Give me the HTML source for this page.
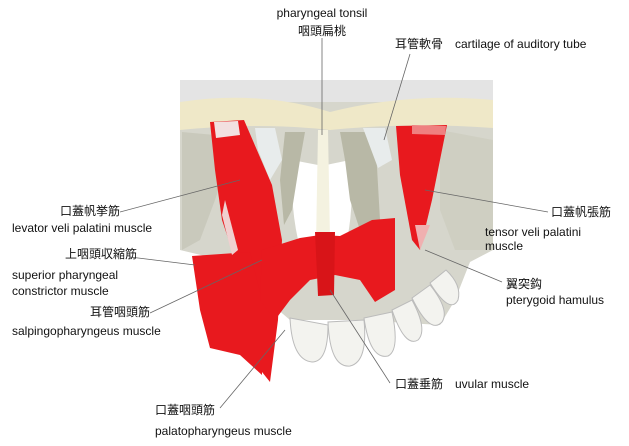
<!DOCTYPE html>
<html><head><meta charset="utf-8"><style>
body{margin:0;background:#fff;width:629px;height:446px;overflow:hidden;font-family:"Liberation Sans","Noto Sans CJK JP",sans-serif;}
svg{position:absolute;left:0;top:0}
.t{font-size:12px;fill:#111}
</style></head><body>
<svg width="629" height="446" viewBox="0 0 629 446">
<!-- skull gray -->
<path d="M180,80 L493,80 L493,250 L470,262 L455,300 L440,325 L360,320 L290,320 L255,290 L230,262 L180,250Z" fill="#d6d6cc"/>
<rect x="180" y="80" width="313" height="22" fill="#e4e4e4"/>
<path d="M180,102 Q260,90 330,112 Q410,92 493,100 L493,128 Q410,122 330,130 Q260,122 180,130Z" fill="#efe8c8"/>
<path d="M182,132 L215,135 L225,170 L215,200 L200,240 L182,250Z" fill="#c9c9bc"/>
<path d="M292,160 L318,165 L320,240 L300,248 Q290,210 292,160Z" fill="#fff"/>
<path d="M326,165 L350,160 Q355,210 345,248 L328,240Z" fill="#fff"/>
<path d="M318,130 L328,130 L330,240 L316,245Z" fill="#f4f2e0"/>
<path d="M340,132 L375,132 L380,220 L360,230 L350,200 L345,160Z" fill="#b8b8a6"/>
<path d="M285,132 L305,132 L300,160 L292,210 L284,225 L280,180Z" fill="#b8b8a6"/>
<path d="M255,128 L275,128 L282,160 L270,180 L258,150Z" fill="#e8ecec"/>
<path d="M363,128 L385,128 L392,160 L378,168Z" fill="#e8ecec"/>
<path d="M440,130 L493,140 L493,250 L455,250 L440,210Z" fill="#cfcfc2"/>
<!-- teeth -->
<g fill="#f3f3ef" stroke="#bbb" stroke-width="1">
<path d="M290,318 Q292,360 312,362 Q328,362 328,325Z"/>
<path d="M328,322 Q330,368 350,366 Q368,362 364,320Z"/>
<path d="M364,318 Q370,360 388,356 Q400,350 392,312Z"/>
<path d="M392,310 Q405,348 418,340 Q428,330 412,300Z"/>
<path d="M412,298 Q430,335 442,322 Q450,310 430,285Z"/>
<path d="M430,283 Q450,315 458,300 Q462,285 446,270Z"/>
</g>
<!-- muscles -->
<g fill="#e8191e">
<path d="M210,122 L244,120 L272,185 L282,240 L278,320 L270,382 L262,372 L245,300 L232,250 L222,220 L215,170Z"/>
<path d="M192,256 L250,252 L262,300 L262,375 L240,355 L210,348 L200,310Z"/>
<path d="M262,250 L300,238 L320,235 L340,236 L372,220 L395,218 L395,290 L375,302 L360,280 L335,275 L310,280 L290,300 L275,320 L260,300Z"/>
<path d="M315,232 L335,232 L334,295 L318,296Z" fill="#d81418"/>
<path d="M396,126 L447,125 L432,200 L420,250 L412,240 L400,175Z"/>
</g>
<path d="M214,122 L238,121 L240,135 L216,138Z" fill="#f2e0e0"/>
<path d="M412,125 L446,126 L445,135 L412,134Z" fill="#ef8080"/>
<path d="M415,225 L430,225 L420,250Z" fill="#f0b0b0"/>
<path d="M225,200 L238,250 L232,255 L222,215Z" fill="#f0d0d0"/>
<!-- leader lines -->
<g stroke="#666" stroke-width="0.8" fill="none">
<line x1="322" y1="38" x2="322" y2="135"/>
<line x1="410" y1="54" x2="384" y2="140"/>
<line x1="120" y1="212" x2="240" y2="180"/>
<line x1="130" y1="257" x2="195" y2="265"/>
<line x1="150" y1="313" x2="262" y2="260"/>
<line x1="548" y1="212" x2="425" y2="190"/>
<line x1="502" y1="282" x2="425" y2="250"/>
<line x1="390" y1="383" x2="330" y2="290"/>
<line x1="220" y1="408" x2="285" y2="330"/>
</g>
<!-- labels -->
<text class="t" x="322" y="17" text-anchor="middle">pharyngeal tonsil</text>
<text class="t" x="322" y="35" text-anchor="middle">咽頭扁桃</text>
<text class="t" x="395" y="48">耳管軟骨　cartilage of auditory tube</text>
<text class="t" x="60" y="215">口蓋帆挙筋</text>
<text class="t" x="12" y="232">levator veli palatini muscle</text>
<text class="t" x="65" y="258">上咽頭収縮筋</text>
<text class="t" x="12" y="279">superior pharyngeal</text>
<text class="t" x="12" y="295">constrictor muscle</text>
<text class="t" x="90" y="316">耳管咽頭筋</text>
<text class="t" x="12" y="335">salpingopharyngeus muscle</text>
<text class="t" x="551" y="216">口蓋帆張筋</text>
<text class="t" x="485" y="236">tensor veli palatini</text>
<text class="t" x="485" y="250">muscle</text>
<text class="t" x="506" y="288">翼突鈎</text>
<text class="t" x="506" y="304">pterygoid hamulus</text>
<text class="t" x="395" y="388">口蓋垂筋　uvular muscle</text>
<text class="t" x="155" y="414">口蓋咽頭筋</text>
<text class="t" x="155" y="435">palatopharyngeus muscle</text>
</svg>
</body></html>
